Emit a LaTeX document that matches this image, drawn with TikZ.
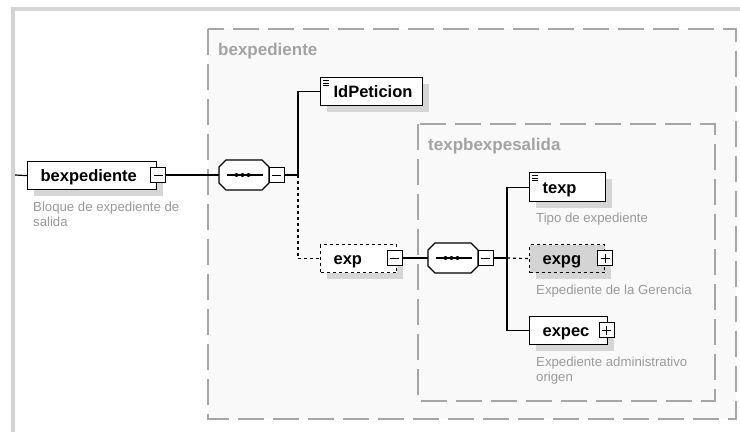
\documentclass[tikz,border=0pt]{standalone}
\usepackage{fontspec}
\setmainfont{Liberation Sans}
\usetikzlibrary{shadows,calc}
\definecolor{framegray}{HTML}{D4D4D4}
\definecolor{boxfill}{HTML}{F9F9F9}
\definecolor{dashgray}{HTML}{A6A6A6}
\definecolor{labelgray}{HTML}{A3A3A3}
\definecolor{descgray}{HTML}{9A9A9A}
\definecolor{shadowgray}{HTML}{D6D6D6}
\definecolor{optfill}{HTML}{D4D4D4}
\begin{document}
\begin{tikzpicture}[x=1pt,y=-1pt,
  conn/.style={line width=1.2pt, black},
  optconn/.style={conn, dash pattern=on 3pt off 3pt},
  grpbox/.style={draw=dashgray, fill=boxfill, line width=1.3pt, dash pattern=on 26pt off 9pt},
  grplabel/.style={anchor=base west, inner sep=0pt, text=labelgray, font=\fontsize{17}{19}\selectfont\bfseries},
  elem/.style={draw, line width=1.2pt, fill=white, anchor=north west, inner xsep=0pt, inner ysep=0pt,
    text width=#1, align=left, text height=12.5pt, text depth=0pt, minimum height=28pt,
    font=\fontsize{16.5}{18}\selectfont\bfseries,
    general shadow={fill=shadowgray, shadow xshift=6pt, shadow yshift=-6pt}},
  optional/.style={dash pattern=on 3pt off 3pt},
  desc/.style={anchor=north west, inner sep=0pt, text=descgray, align=left, font=\fontsize{13.2}{15}\selectfont},
  seqnode/.style={rectangle, minimum width=50pt, minimum height=30pt, inner sep=0pt, outer sep=0pt},
  minusbox/.style={draw, line width=1pt, fill=white, minimum size=15pt, inner sep=0pt, outer sep=0pt,
    path picture={\draw[line width=1pt] ([xshift=3pt]path picture bounding box.west) -- ([xshift=-3pt]path picture bounding box.east);}},
  plusbox/.style={draw, line width=1pt, fill=white, minimum size=15pt, inner sep=0pt, outer sep=0pt,
    path picture={\draw[line width=1pt] ([xshift=3pt]path picture bounding box.west) -- ([xshift=-3pt]path picture bounding box.east);
                  \draw[line width=1pt] ([yshift=3pt]path picture bounding box.south) -- ([yshift=-3pt]path picture bounding box.north);}}
]
\useasboundingbox (0,0) rectangle (740,432);
\fill[white] (0,0) rectangle (740,432);
\fill[framegray] (11,7) rectangle (740,11);
\fill[framegray] (11,7) rectangle (15,432);

% group boxes
\draw[grpbox] (208,29) rectangle (736,419);
\node[grplabel] (lblouter) at (218,55) {bexpediente};
\draw[grpbox] (418,124) rectangle (715,401);
\node[grplabel] (lblinner) at (428,150) {texpbexpesalida};

% root element
\coordinate (lstart) at (15,175);
\node[elem=129pt] (bexp) at (27,161) {\hspace*{13pt}bexpediente};
\node[minusbox] (mbexp) at (158,175) {};
\node[desc] (dbexp) at (33,202) {Bloque de expediente de\\salida};

% sequence nodes
\node[seqnode] (seq1) at (244,175) {};
\node[seqnode] (seq2) at (453,258) {};
\foreach \n in {seq1,seq2} {
  \fill[shadowgray, shift={(6,6)}]
    ($(\n.north west)+(7,0)$) -- ($(\n.north east)+(-7,0)$) -- ($(\n.north east)+(0,7)$) --
    ($(\n.south east)+(0,-7)$) -- ($(\n.south east)+(-7,0)$) -- ($(\n.south west)+(7,0)$) --
    ($(\n.south west)+(0,-7)$) -- ($(\n.north west)+(0,7)$) -- cycle;
  \draw[line width=1.2pt, fill=white]
    ($(\n.north west)+(7,0)$) -- ($(\n.north east)+(-7,0)$) -- ($(\n.north east)+(0,7)$) --
    ($(\n.south east)+(0,-7)$) -- ($(\n.south east)+(-7,0)$) -- ($(\n.south west)+(7,0)$) --
    ($(\n.south west)+(0,-7)$) -- ($(\n.north west)+(0,7)$) -- cycle;
  \draw[line width=1.2pt] ($(\n.west)+(8,0)$) -- ($(\n.west)+(44,0)$);
  \foreach \d in {17.5,23.5,29.5} \fill ($(\n.west)+(\d,0)$) circle (2pt);
}
\node[minusbox] (mseq1) at (276.5,175) {};
\node[minusbox] (mseq2) at (485.5,258) {};
\coordinate (j1) at (298,175);
\coordinate (j2) at (507,258);

% children
\node[elem=102pt] (idp) at (320,77) {\hspace*{13pt}IdPeticion};
\node[elem=76pt, optional] (exp) at (320,244) {\hspace*{13pt}exp};
\node[minusbox] (mexp) at (394.5,258) {};

\node[elem=76pt, minimum height=29pt] (texp) at (529,172) {\hspace*{13pt}texp};
\node[desc] (dtexp) at (536,213) {Tipo de expediente};
\node[elem=75pt, optional, fill=optfill] (expg) at (529,244) {\hspace*{13pt}expg};
\node[plusbox] (pexpg) at (605,258) {};
\node[desc] (dexpg) at (536,285) {Expediente de la Gerencia};
\node[elem=78pt] (expec) at (529,316) {\hspace*{13pt}expec};
\node[plusbox] (pexpec) at (606.5,330) {};
\node[desc] (dexpec) at (536,357) {Expediente administrativo\\origen};

% simple-type icons
\foreach \n in {idp,texp}
  \foreach \k in {3.5,6,8.5}
    \draw[line width=0.8pt] ($(\n.north west)+(3,\k)$) -- ++(6,0);

% connectors
\draw[conn] (lstart) -- (bexp.west);
\draw[conn] (mbexp.east) -- (seq1.west);
\draw[conn] (mseq1.east) -- (j1) |- (idp.west);
\draw[optconn] (j1) |- (exp.west);
\draw[conn] (mexp.east) -- (seq2.west);
\draw[conn] (mseq2.east) -- (j2);
\draw[conn] (texp.west) -| (j2) |- (expec.west);
\draw[optconn] (j2) -- (expg.west);
\end{tikzpicture}
\end{document}
